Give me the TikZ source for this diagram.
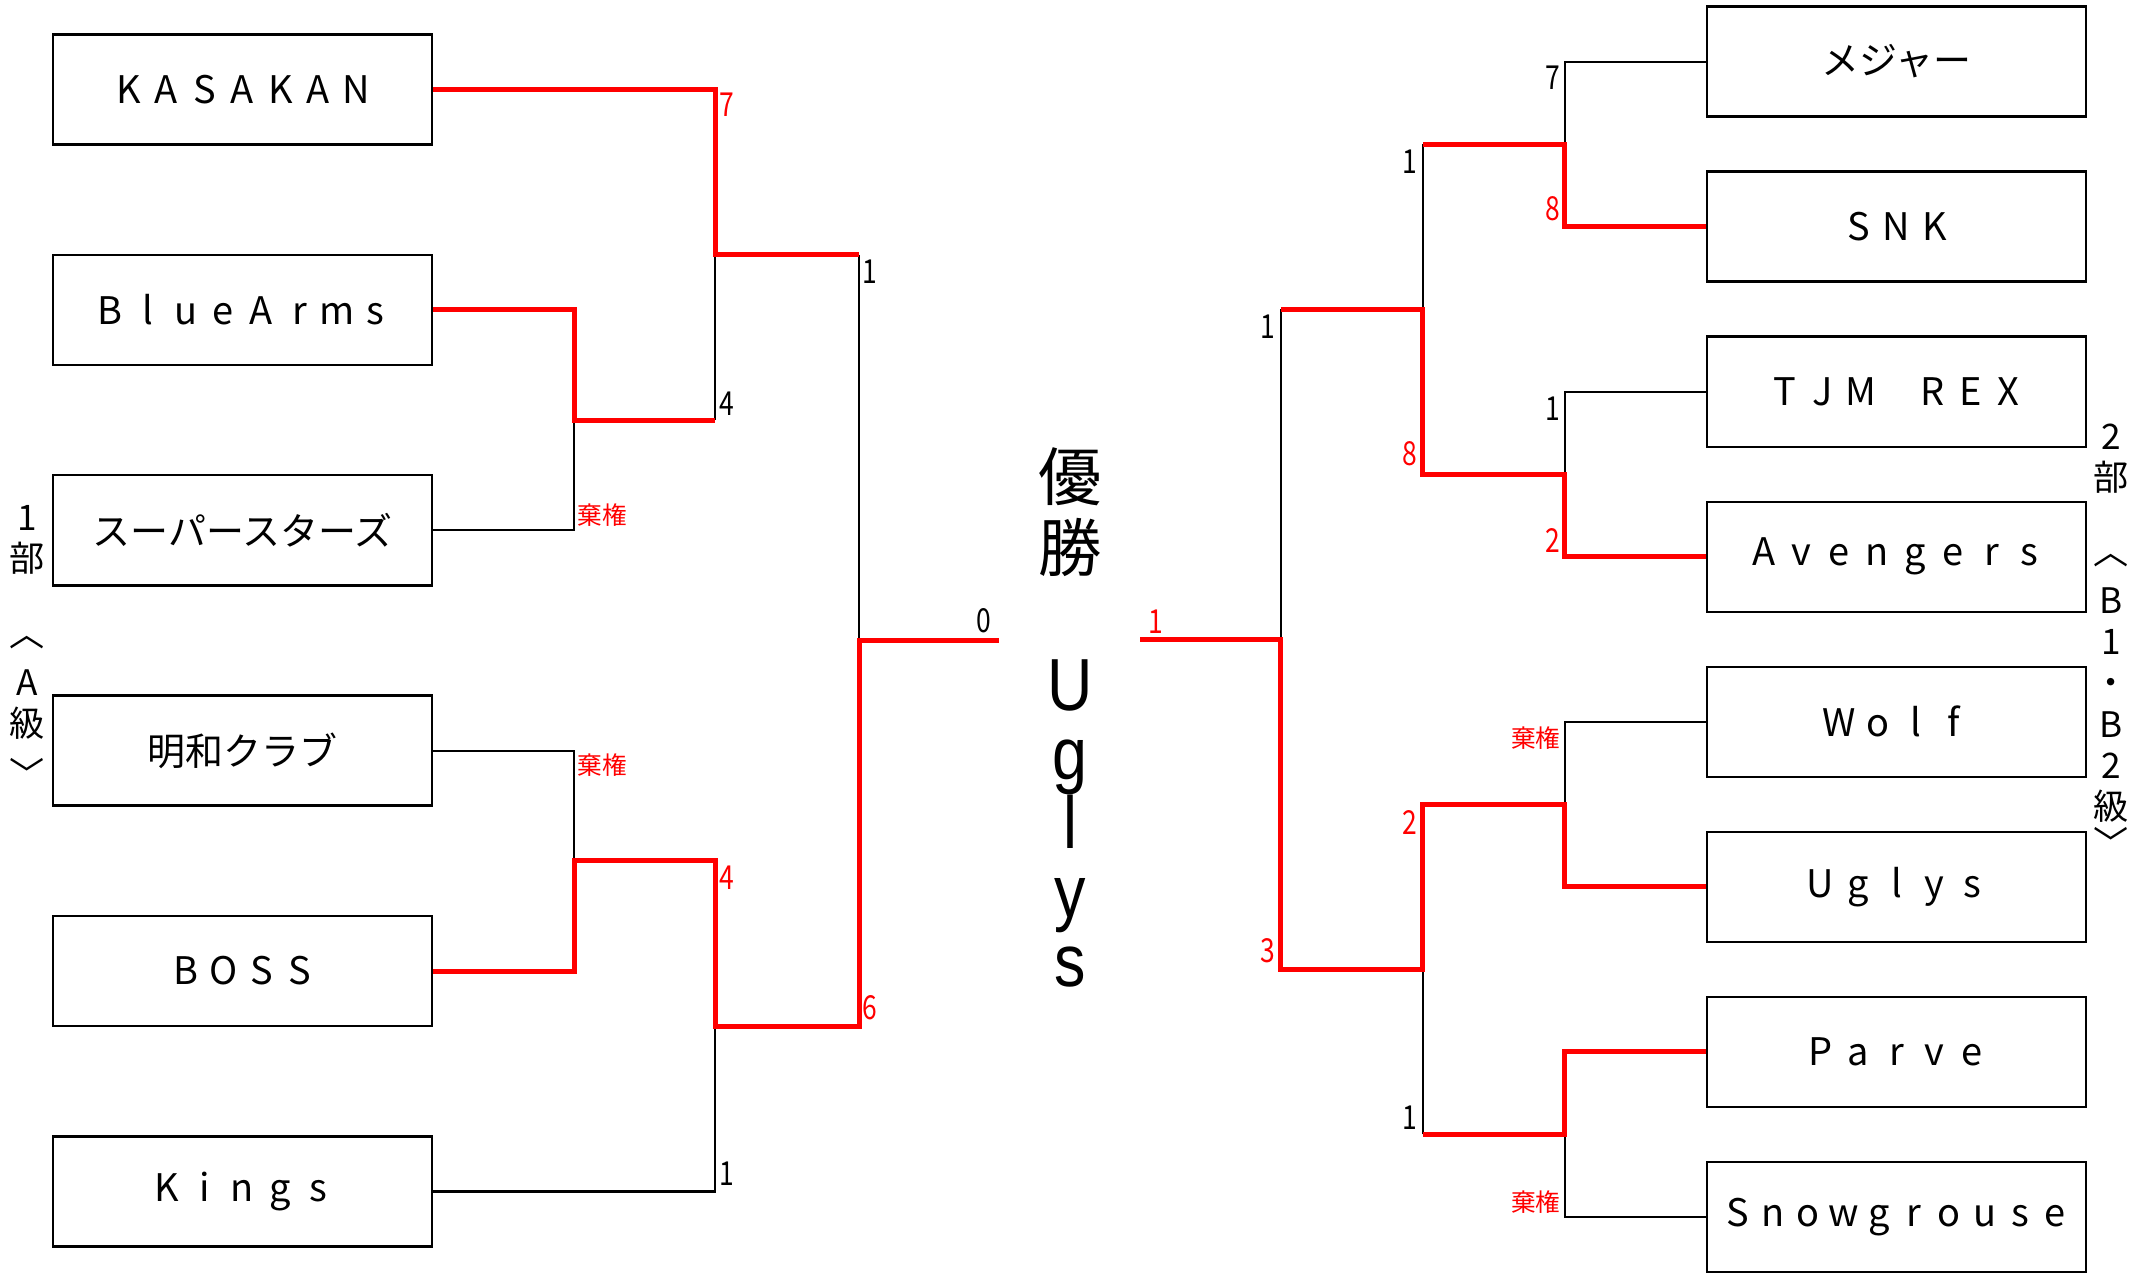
\documentclass[tikz,border=0pt]{standalone}
\usepackage{fontspec}
\setmainfont{Noto Sans CJK JP}
\newfontfamily\scorefont[FakeStretch=0.8]{Noto Sans CJK JP}
\newfontfamily\champfont[FakeStretch=0.85]{Liberation Sans}
\usetikzlibrary{positioning,calc}
\definecolor{winred}{RGB}{255,0,0}
\ExplSyntaxOn
\NewDocumentCommand{\spaced}{O{1em}m}{\tl_map_inline:nn{#2}{\makebox[#1][c]{##1}}}
\ExplSyntaxOff
\tikzset{
  team/.style     = {draw=black, line width=0.7pt, minimum width=3.79cm,
                     minimum height=1.1cm, inner sep=0pt,
                     font=\fontsize{10.8}{13}\selectfont},
  win/.style      = {draw=winred, line width=1.4pt},
  lose/.style     = {draw=black, line width=0.6pt},
  score/.style    = {inner sep=0pt, font=\scorefont\fontsize{9.4}{11}\selectfont},
  wonscore/.style = {score, text=winred},
  forfeit/.style  = {inner sep=0pt, text=winred, font=\fontsize{7}{8}\selectfont},
}

\begin{document}
\begin{tikzpicture}[
  x=0.01cm, y=-0.01cm,
  division/.style={anchor=north, align=center, inner sep=0pt,
                   font=\fontsize{10}{11.7}\selectfont},
  wintitle/.style={anchor=north, align=center, inner sep=0pt,
                   font=\fontsize{18}{20.2}\selectfont},
  champ/.style={anchor=north, align=center, inner sep=0pt,
                font=\champfont\fontsize{21}{19.6}\selectfont},
]
\useasboundingbox (0,0) rectangle (2145,1272);

% left half: 1部
\node[team] (kasakan) at (242.5,89.5) {\spaced{KASAKAN}};
\node[team, below=1.078cm of kasakan] (bluearms) {\spaced{BlueArms}};
\node[team, below=1.078cm of bluearms] (superstars) {スーパースターズ};
\node[team, below=1.078cm of superstars] (meiwa) {明和クラブ};
\node[team, below=1.078cm of meiwa] (boss) {\spaced{BOSS}};
\node[team, below=1.078cm of boss] (kings) {\spaced{Kings}};

% right half: 2部
\node[team] (major) at (1896.5,61.6) {メジャー};
\node[team, below=0.525cm of major] (snk) {\spaced{SNK}};
\node[team, below=0.525cm of snk] (tjm) {\spaced{TJM}\hspace{0.9em}\spaced{REX}};
\node[team, below=0.525cm of tjm] (avengers) {\spaced{Avengers}};
\node[team, below=0.525cm of avengers] (wolf) {\spaced{Wolf}};
\node[team, below=0.525cm of wolf] (uglys) {\spaced{Uglys}};
\node[team, below=0.525cm of uglys] (parve) {\spaced{Parve}};
\node[team, below=0.525cm of parve] (snow) {\spaced[0.93em]{Snowgrouse}};

% junctions
\coordinate (la1) at ($(bluearms.east)!.5!(superstars.east) + (141,0)$);
\coordinate (la2) at ($(meiwa.east)!.5!(boss.east) + (141,0)$);
\coordinate (lb1) at ($(la1)!.5!(la1 |- kasakan.east) + (141,0)$);
\coordinate (lb2) at ($(la2)!.5!(la2 |- kings.east) + (141,0)$);
\coordinate (lc) at ($(lb1)!.5!(lb2) + (144,0)$);
\coordinate (lfin) at ($(lc) + (140,0)$);
\coordinate (ra1) at ($(major.west)!.5!(snk.west) + (-141,0)$);
\coordinate (ra2) at ($(tjm.west)!.5!(avengers.west) + (-141,0)$);
\coordinate (ra3) at ($(wolf.west)!.5!(uglys.west) + (-141,0)$);
\coordinate (ra4) at ($(parve.west)!.5!(snow.west) + (-141,0)$);
\coordinate (rb1) at ($(ra1)!.5!(ra2) + (-142,0)$);
\coordinate (rb2) at ($(ra3)!.5!(ra4) + (-142,0)$);
\coordinate (rc) at ($(rb1)!.5!(rb2) + (-142,0)$);
\coordinate (rfin) at ($(rc) + (-141,0)$);

% losers first
\draw[lose] (superstars.east) -| (la1);
\draw[lose] (meiwa.east) -| (la2);
\draw[lose] (la1 -| lb1) -- (lb1);
\draw[lose] (kings.east) -| (lb2);
\draw[lose] (lb1 -| lc) -- (lc);
\draw[lose] (major.west) -| (ra1);
\draw[lose] (tjm.west) -| (ra2);
\draw[lose] (wolf.west) -| (ra3);
\draw[lose] (snow.west) -| (ra4);
\draw[lose] (ra1 -| rb1) -- (rb1);
\draw[lose] (ra4 -| rb2) -- (rb2);
\draw[lose] (rb1 -| rc) -- (rc);

% winners on top
\draw[win] (bluearms.east) -| (la1) -- (la1 -| lb1);
\draw[win] (kasakan.east) -| (lb1) -- (lb1 -| lc);
\draw[win] (boss.east) -| (la2) -- (la2 -| lb2) -- (lb2) -- (lb2 -| lc) -- (lc) -- (lfin);
\draw[win] (snk.west) -| (ra1) -- (ra1 -| rb1);
\draw[win] (avengers.west) -| (ra2) -- (ra2 -| rb1) -- (rb1) -- (rb1 -| rc);
\draw[win] (parve.west) -| (ra4) -- (ra4 -| rb2);
\draw[win] (uglys.west) -| (ra3) -- (ra3 -| rb2) -- (rb2) -- (rb2 -| rc) -- (rc) -- (rfin);

% scores, left
\node[wonscore, anchor=west] (s7) at (719,105) {7};
\node[score, anchor=south west] (s4a) at (719,416) {4};
\node[forfeit, anchor=south west] (kk1) at (577,527) {棄権};
\node[forfeit, anchor=north west] (kk2) at (577,753) {棄権};
\node[wonscore, anchor=north west] (s4b) at (719,865) {4};
\node[score, anchor=south west] (s1a) at (719,1186) {1};
\node[score, anchor=north west] (s1b) at (862,259) {1};
\node[wonscore, anchor=south west] (s6) at (862,1021) {6};
\node[score, anchor=south] (s0) at (984,634) {0};

% scores, right
\node[score, anchor=north east] (t7) at (1561,65) {7};
\node[wonscore, anchor=south east] (t8a) at (1561,222) {8};
\node[score, anchor=north east] (t1a) at (1418,149) {1};
\node[score, anchor=north east] (t1b) at (1276,314) {1};
\node[score, anchor=north east] (t1c) at (1561,396) {1};
\node[wonscore, anchor=south east] (t8b) at (1418,467) {8};
\node[wonscore, anchor=south east] (t2a) at (1561,553) {2};
\node[forfeit, anchor=north east] (kk3) at (1561,726) {棄権};
\node[wonscore, anchor=north east] (t2b) at (1418,810) {2};
\node[wonscore, anchor=south east] (t3) at (1276,964) {3};
\node[score, anchor=south east] (t1d) at (1418,1130) {1};
\node[forfeit, anchor=south east] (kk4) at (1561,1214) {棄権};
\node[wonscore, anchor=south west] (t1e) at (1148,634) {1};

% centre and side titles
\node[wintitle] (title) at (1070,447) {優\\勝};
\node[champ] (champion) at (1070,659) {U\\g\\l\\y\\s};
\node[division] (leftdiv) at (27,505)
  {1\\部\\[0.33cm]︿\\[0.08cm]A\\級\\[0.1cm]﹀};
\node[division] (rightdiv) at (2111,423)
  {2\\部\\[0.33cm]︿\\[0.08cm]B\\1\\・\\B\\2\\級\\[-0.04cm]﹀};
\end{tikzpicture}
\end{document}
